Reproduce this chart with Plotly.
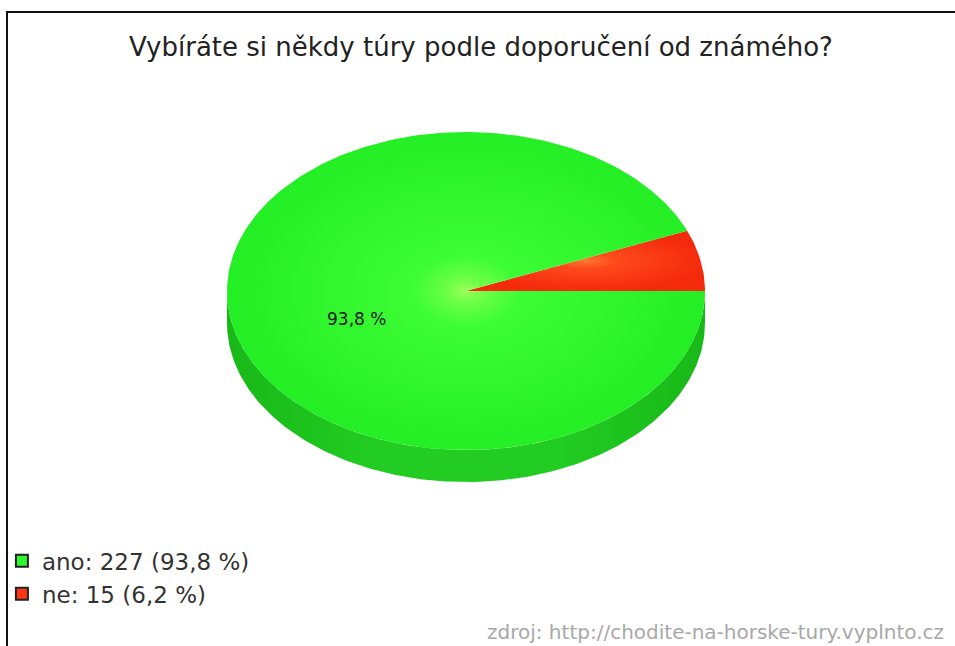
import numpy as np
import plotly.graph_objects as go

# ---- data ----
title = "Vybíráte si někdy túry podle doporučení od známého?"
categories = ["ano", "ne"]
counts = [227, 15]
colors_top = ["#2ef92e", "#ff3514"]
source_text = "zdroj: http://chodite-na-horske-tury.vyplnto.cz"

# ---- geometry (pixel coordinates, y down) ----
W, H = 955, 646
cx, cy = 466, 291
rx, ry = 239, 159
depth = 32
FONT = "DejaVu Sans, Liberation Sans, Arial"

total = sum(counts)
pcts = [c / total * 100 for c in counts]

def fmt(p):
    return f"{p:.1f}".replace(".", ",")

fig = go.Figure()

# side (front half of the rim)
t = np.linspace(np.pi, 2 * np.pi, 200)
sx = np.concatenate([cx + rx * np.cos(t), (cx + rx * np.cos(t))[::-1]])
sy = np.concatenate([cy - ry * np.sin(t), (cy - ry * np.sin(t) + depth)[::-1]])
fig.add_trace(go.Scatter(
    x=sx, y=sy, mode="lines", fill="toself", line=dict(width=0, color="#1fc41f"),
    fillgradient=dict(type="horizontal",
                      colorscale=[[0, "#18b818"], [0.3, "#22cc22"], [0.7, "#22cc22"], [1, "#18b818"]]),
    showlegend=False, hoverinfo="skip"))

# top faces: slices start at 3 o'clock going counter-clockwise, smallest first
order = list(range(len(counts)))[::-1]
start = 0.0
slice_angles = {}
for i in order:
    span = counts[i] / total * 2 * np.pi
    a = np.linspace(start, start + span, max(int(span / (2 * np.pi) * 400), 8))
    px = np.concatenate([[cx], cx + rx * np.cos(a), [cx]])
    py = np.concatenate([[cy], cy - ry * np.sin(a), [cy]])
    slice_angles[i] = (start, start + span)
    if i == 0:
        cs = [[0, "#9dff5a"], [0.08, "#6bff45"], [0.22, "#3dfd35"], [1, "#24ee24"]]
    else:
        cs = [[0, "#ff7a30"], [0.25, "#ff4a1c"], [1, "#f42a0c"]]
    fig.add_trace(go.Scatter(
        x=px, y=py, mode="lines", fill="toself",
        line=dict(width=0, color=colors_top[i]),
        fillgradient=dict(type="radial", colorscale=cs),
        showlegend=False, hoverinfo="skip"))
    start += span

# legend entries
for i, cat in enumerate(categories):
    fig.add_trace(go.Scatter(
        x=[None], y=[None], mode="markers",
        marker=dict(symbol="square", size=13, color=colors_top[i],
                    line=dict(color="#222", width=1)),
        name=f"{cat}: {counts[i]} ({fmt(pcts[i])} %)"))

annotations = []
# percentage label for the large slice
for i in range(len(counts)):
    if pcts[i] < 10:
        continue
    a0, a1 = slice_angles[i]
    mid = (a0 + a1) / 2
    lx = cx + rx * 0.465 * np.cos(mid)
    ly = cy - ry * 0.465 * np.sin(mid) + 14
    annotations.append(dict(x=lx, y=ly, text=f"{fmt(pcts[i])} %", showarrow=False,
                            font=dict(family=FONT, size=17, color="#1a1a1a")))

annotations.append(dict(x=481, y=47, text=title, showarrow=False,
                        font=dict(family=FONT, size=26, color="#222")))
annotations.append(dict(x=946, y=632, text=source_text, showarrow=False, xanchor="right",
                        font=dict(family=FONT, size=20, color="#a8a8a8")))

fig.update_layout(
    width=W, height=H, autosize=False,
    margin=dict(l=0, r=0, t=0, b=0),
    paper_bgcolor="white", plot_bgcolor="white",
    xaxis=dict(range=[0, W], visible=False, fixedrange=True),
    yaxis=dict(range=[H, 0], visible=False, fixedrange=True),
    annotations=annotations,
    shapes=[dict(type="line", x0=7, y0=H, x1=7, y1=12, line=dict(color="#111", width=2)),
            dict(type="line", x0=6, y0=12, x1=W, y1=12, line=dict(color="#111", width=2))],
    legend=dict(x=0.002, y=0.165, xanchor="left", yanchor="top",
                font=dict(family=FONT, size=23, color="#333"),
                bgcolor="rgba(0,0,0,0)", itemsizing="constant", tracegroupgap=0),
    showlegend=True,
)

fig.write_html("out.html", config={"displayModeBar": False},
               post_script="document.body.style.margin='0';")
